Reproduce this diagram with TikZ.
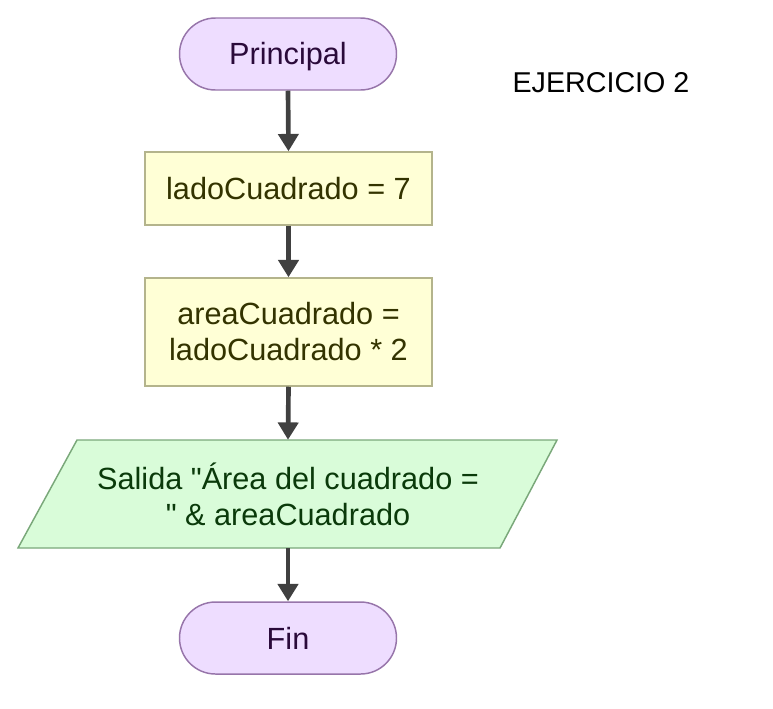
\documentclass[tikz,border=0pt]{standalone}
\usepackage{fontspec}
\setmainfont{Liberation Sans}
\newfontfamily\plainsans{Liberation Sans}
\usetikzlibrary{arrows.meta}
\definecolor{termfill}{HTML}{EEDDFF}
\definecolor{termdraw}{HTML}{9775AA}
\definecolor{termtext}{HTML}{2A0A3A}
\definecolor{procfill}{HTML}{FFFFD6}
\definecolor{procdraw}{HTML}{B4B48C}
\definecolor{proctext}{HTML}{333300}
\definecolor{iofill}{HTML}{D9FCD9}
\definecolor{iodraw}{HTML}{7AA87A}
\definecolor{iotext}{HTML}{0A3A0A}
\definecolor{arrowcol}{HTML}{404040}
\begin{document}
\begin{tikzpicture}[x=0.75pt,y=-0.75pt,
  mainfont/.style={font=\plainsans\fontsize{23}{27}\selectfont},
  termbox/.style={mainfont,draw=termdraw,fill=termfill,text=termtext,line width=1.1pt,
    rounded corners=27pt,minimum width=162.75pt,minimum height=54pt,inner sep=0pt},
  procbox/.style={mainfont,draw=procdraw,fill=procfill,text=proctext,line width=1.1pt,
    minimum width=215.25pt,inner sep=0pt,align=center},
  iobox/.style={mainfont,text=iotext,minimum width=360pt,minimum height=81pt,inner sep=0pt,align=center},
  flow/.style={draw=arrowcol,line width=3.5pt,-{Triangle[width=15pt,length=13pt]}}]
\useasboundingbox (0,0) rectangle (773,708);
\node[termbox,text height=17pt,text depth=1pt] (start) at (288,54) {Principal};
\node[font=\fontsize{21.5}{25}\selectfont] (title) at (601,83) {EJERCICIO 2};
\node[procbox,minimum height=54.75pt] (lado) at (288.5,188.5) {ladoCuadrado = 7};
\node[procbox,minimum height=81pt] (area) at (288.5,332) {areaCuadrado =\\ ladoCuadrado * 2};
\draw[draw=iodraw,fill=iofill,line width=1.1pt] (77,440) -- (557,440) -- (500,548) -- (18,548) -- cycle;
\node[iobox] (out) at (288,494) {Salida "Área del cuadrado =\\ " \& areaCuadrado};
\node[termbox] (fin) at (288,638) {Fin};
\draw[flow] (start.south) -- (lado.north);
\draw[flow] (lado.south) -- (area.north);
\draw[flow] (area.south) -- (out.north);
\draw[flow] (out.south) -- (fin.north);
\end{tikzpicture}
\end{document}
